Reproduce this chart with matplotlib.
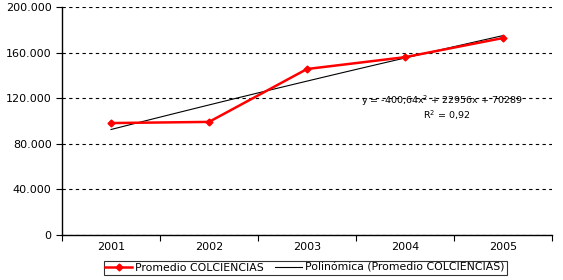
import matplotlib
matplotlib.use("Agg")
import matplotlib.pyplot as plt
import numpy as np

# Data
years = ['2001', '2002', '2003', '2004', '2005']
promedio = [98200, 99200, 145600, 156000, 172800]
y_ticks = [0, 40000, 80000, 120000, 160000, 200000]
y_labels = ['0', '40.000', '80.000', '120.000', '160.000', '200.000']

plt.rcParams['font.family'] = 'DejaVu Sans'
fig = plt.figure(figsize=(5.63, 2.80), dpi=100)
ax = fig.add_axes([62/563, 45/280, 490/563, 228/280])

x = np.arange(1, len(years) + 1)

# polynomial trendline (2nd order), like Excel
coef = np.polyfit(x, promedio, 2)
xs = np.linspace(1, 5, 100)
ax.plot(xs, np.polyval(coef, xs), color='black', lw=0.8,
        label='Polinómica (Promedio COLCIENCIAS)', zorder=3)

ax.plot(x, promedio, color='#ff0000', lw=1.8, marker='D', markersize=3.5,
        label='Promedio COLCIENCIAS', zorder=4)

ax.set_xlim(0.5, 5.5)
ax.set_ylim(0, 200000)
ax.set_yticks(y_ticks)
ax.set_yticklabels(y_labels, fontsize=8)
ax.set_xticks(np.arange(0.5, 6, 1))
ax.set_xticklabels([])
ax.set_xticks(x, minor=True)
ax.set_xticklabels(years, minor=True, fontsize=8)
ax.tick_params(axis='x', which='minor', length=0, pad=5)
ax.tick_params(axis='both', which='major', length=4, width=0.8, direction='out')

ax.grid(axis='y', color='black', linestyle=(0, (3, 3)), lw=0.8)
for s in ['top', 'right']:
    ax.spines[s].set_visible(False)
for s in ['left', 'bottom']:
    ax.spines[s].set_linewidth(1)

ax.text(4.38, 118000, 'y = -400,64x$^2$ + 22956x + 70289', fontsize=6.8,
        ha='center', va='center')
ax.text(4.42, 105000, 'R$^2$ = 0,92', fontsize=6.8, ha='center', va='center')

handles, labels = ax.get_legend_handles_labels()
leg = fig.legend(handles[::-1], labels[::-1], loc='center', ncol=2,
                 bbox_to_anchor=(305/563, 1 - 268/280), fontsize=7.8,
                 frameon=True, fancybox=False, edgecolor='black',
                 borderpad=0.15, handlelength=2.5, columnspacing=1.0,
                 handletextpad=0.3)
leg.get_frame().set_linewidth(0.8)

fig.savefig('out.png', dpi=100)
